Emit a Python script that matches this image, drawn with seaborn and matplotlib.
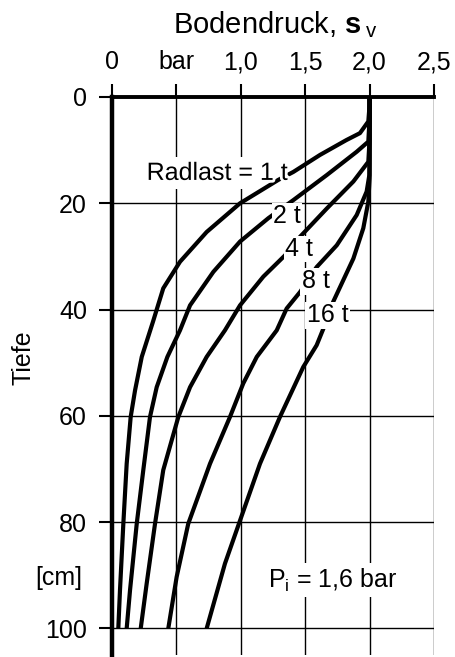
import matplotlib
matplotlib.use("Agg")
import matplotlib.pyplot as plt
import matplotlib.patheffects as pe
import numpy as np
import pandas as pd
import seaborn as sns

# Soil pressure (bar) versus depth (cm) for different wheel loads, inflation pressure 1.6 bar
loads = ["1 t", "2 t", "4 t", "8 t", "16 t"]

depth_1t = [0, 1.5, 4.6, 6.8, 8.1, 10.9, 14.1, 15.6, 20.0, 25.4, 31.0, 36.0, 42.3, 48.9, 55.2, 60.2, 69.0, 80.3, 92.8, 100]
press_1t = [2.0, 2.0, 1.99, 1.925, 1.82, 1.615, 1.408, 1.291, 0.994, 0.735, 0.528, 0.398, 0.318, 0.231, 0.179, 0.145, 0.114, 0.088, 0.062, 0.049]

depth_2t = [0, 4.0, 8.4, 10.3, 14.7, 19.4, 22.8, 27.2, 32.9, 39.2, 43.9, 48.9, 54.6, 60.2, 70.2, 80.3, 92.8, 100]
press_2t = [2.0, 2.0, 1.99, 1.90, 1.667, 1.408, 1.214, 0.994, 0.787, 0.606, 0.528, 0.43, 0.347, 0.295, 0.243, 0.192, 0.140, 0.114]

depth_4t = [0, 8.0, 12.2, 15.9, 21.0, 26.3, 29.8, 33.8, 39.2, 43.9, 48.9, 54.6, 60.2, 70.2, 80.3, 91.6, 100]
press_4t = [2.0, 2.0, 1.99, 1.874, 1.667, 1.46, 1.343, 1.175, 0.994, 0.877, 0.735, 0.606, 0.515, 0.398, 0.334, 0.269, 0.223]

depth_8t = [0, 11.0, 14.7, 17.8, 22.2, 27.9, 32.0, 36.7, 39.8, 43.9, 48.9, 53.9, 60.2, 69.0, 80.3, 90.3, 100]
press_8t = [2.0, 2.0, 1.998, 1.977, 1.90, 1.745, 1.589, 1.46, 1.356, 1.279, 1.124, 1.019, 0.916, 0.761, 0.592, 0.502, 0.437]

depth_16t = [0, 15.3, 19.7, 24.7, 30.4, 38.5, 43.6, 46.7, 50.8, 60.2, 69.0, 79.7, 87.8, 100]
press_16t = [2.0, 2.0, 1.99, 1.951, 1.874, 1.718, 1.641, 1.589, 1.485, 1.304, 1.149, 0.994, 0.877, 0.735]

x_ticks = [0, 0.5, 1.0, 1.5, 2.0, 2.5]
x_ticklabels = ["0", "bar", "1,0", "1,5", "2,0", "2,5"]
y_ticks = [0, 20, 40, 60, 80, 100]
y_ticklabels = ["0", "20", "40", "60", "80", "100"]

frames = []
for name, d, p in zip(loads,
                      [depth_1t, depth_2t, depth_4t, depth_8t, depth_16t],
                      [press_1t, press_2t, press_4t, press_8t, press_16t]):
    frames.append(pd.DataFrame({"load": name, "depth": d, "pressure": p}))
df = pd.concat(frames, ignore_index=True)

sns.set_theme(style="white")
plt.rcParams["font.family"] = ["Liberation Sans", "DejaVu Sans"]
plt.rcParams["mathtext.fontset"] = "custom"
plt.rcParams["mathtext.rm"] = "Liberation Sans"
plt.rcParams["mathtext.bf"] = "Liberation Sans:bold"
plt.rcParams["mathtext.it"] = "Liberation Sans:italic"

FS = 18
fig = plt.figure(figsize=(4.56, 6.57), dpi=100)
ax = fig.add_axes([112 / 456, 1 - 655 / 657, 322 / 456, 558 / 657])

sns.lineplot(data=df, x="pressure", y="depth", units="load", estimator=None,
             sort=False, color="black", linewidth=3.0, ax=ax, zorder=3,
             solid_capstyle="butt", solid_joinstyle="round")

ax.set_xlim(0, 2.5)
ax.set_ylim(105, 0)
ax.xaxis.tick_top()
ax.set_xticks(x_ticks)
ax.set_xticklabels(x_ticklabels)
ax.set_yticks(y_ticks)
ax.set_yticklabels(y_ticklabels)
ax.set_xlabel("")
ax.set_ylabel("")

ax.grid(True, color="black", linewidth=1.0, zorder=1)
ax.set_axisbelow(True)

for side in ["right", "bottom"]:
    ax.spines[side].set_visible(False)
ax.spines["top"].set_linewidth(2.8)
ax.spines["left"].set_linewidth(3.2)
for side in ["top", "left"]:
    ax.spines[side].set_color("black")
    ax.spines[side].set_zorder(4)

ax.tick_params(axis="x", direction="out", length=9.5, width=1.5, pad=7,
               labelsize=FS, colors="black", top=True, bottom=False)
ax.tick_params(axis="y", direction="out", length=9.5, width=1.5, pad=8.5,
               labelsize=FS, colors="black", left=True)

# Curve annotations
ax.text(0.269, 15.6, "Radlast = 1 t", fontsize=FS, ha="left", va="baseline",
        color="none", zorder=2,
        bbox=dict(boxstyle="square,pad=0.15", fc="white", ec="none"))
ax.text(0.269, 15.6, "Radlast = 1 t", fontsize=FS, ha="left", va="baseline",
        color="black", zorder=5,
        path_effects=[pe.withStroke(linewidth=4, foreground="white")])

label_pos = {"2 t": (1.252, 23.7), "4 t": (1.343, 29.9),
             "8 t": (1.473, 36.0), "16 t": (1.512, 42.4)}
for lab, (lx, ly) in label_pos.items():
    ax.text(lx, ly, lab, fontsize=FS, ha="left", va="baseline", color="black",
            zorder=5, bbox=dict(boxstyle="square,pad=0.05", fc="white", ec="none"))

ax.text(1.21, 92.3, r"P$_{\mathregular{i}}$ = 1,6 bar", fontsize=FS, ha="left",
        va="baseline", color="black", zorder=5,
        bbox=dict(boxstyle="square,pad=0.15", fc="white", ec="none"))

# Axis titles
fig.text(173 / 456, 1 - 33 / 657, r"Bodendruck, $\mathbf{s}\,{}_{\mathrm{v}}$",
         fontsize=21, ha="left", va="baseline", color="black")
fig.text(24 / 456, 1 - 358 / 657, "Tiefe", fontsize=FS, rotation=90,
         ha="center", va="center", color="black")
fig.text(82 / 456, 1 - 578 / 657, "[cm]", fontsize=FS, ha="right",
         va="center", color="black")

fig.savefig("out.png", dpi=100, facecolor="white")
